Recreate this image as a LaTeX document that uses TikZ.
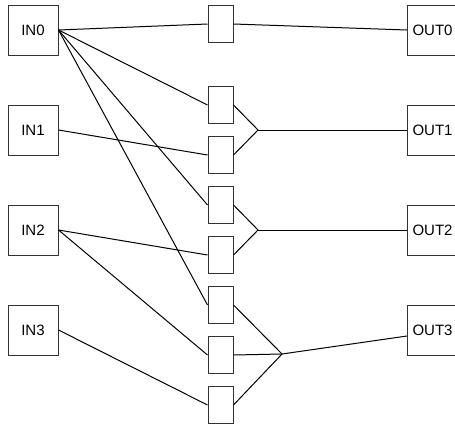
\documentclass[tikz,border=0pt]{standalone}
\usepackage{fontspec}
\setmainfont{Liberation Sans}
\tikzset{
  inbox/.style={draw=black!80, line width=1pt, minimum width=50pt, minimum height=50pt, inner sep=0pt, font=\fontsize{15}{18}\selectfont},
  outbox/.style={draw=black!80, line width=1pt, minimum height=50pt, text width=40pt, inner sep=5pt, align=left, anchor=west, font=\fontsize{15}{18}\selectfont},
  slot/.style={draw=black!80, line width=1pt, minimum width=25pt, minimum height=37.5pt, inner sep=0pt},
  wire/.style={line width=1pt, black}
}
\begin{document}
\begin{tikzpicture}[x=1pt, y=-1pt]
\useasboundingbox (0,0) rectangle (455,426);

% -------- inputs -----------
\node [inbox] (in0) at (33,30)  {IN0};
\node [inbox] (in1) at (33,130) {IN1};
\node [inbox] (in2) at (33,230) {IN2};
\node [inbox] (in3) at (33,330) {IN3};

% -------- middle boxes -----------
\node [slot] (s0) at (220.5,24)  {};
\node [slot] (s1) at (220.5,105) {};
\node [slot] (s2) at (220.5,155) {};
\node [slot] (s3) at (220.5,205) {};
\node [slot] (s4) at (220.5,255) {};
\node [slot] (s5) at (220.5,305) {};
\node [slot] (s6) at (220.5,355) {};
\node [slot] (s7) at (220.5,405) {};

% -------- outputs -----------
\node [outbox] (out0) at (407,30)  {OUT0};
\node [outbox] (out1) at (407,130) {OUT1};
\node [outbox] (out2) at (407,230) {OUT2};
\node [outbox] (out3) at (407,330) {OUT3};

\coordinate (j1) at (258,130);
\coordinate (j2) at (258,230);
\coordinate (j3) at (282,354);

% -------- input wires -----------
\draw [wire] (in0.east) -- (s0.west);
\draw [wire] (in0.east) -- (s1.west);
\draw [wire] (in0.east) -- (s3.west);
\draw [wire] (in0.east) -- (s5.west);
\draw [wire] (in1.east) -- (s2.west);
\draw [wire] (in2.east) -- (s4.west);
\draw [wire] (in2.east) -- (s6.west);
\draw [wire] (in3.east) -- (s7.west);

% -------- output wires -----------
\draw [wire] (s0.east) -- (out0.west);
\draw [wire] (s1.east) -- (j1) -- (s2.east);
\draw [wire] (j1) -- (out1.west);
\draw [wire] (s3.east) -- (j2) -- (s4.east);
\draw [wire] (j2) -- (out2.west);
\draw [wire] (s5.east) -- (j3) -- (s7.east);
\draw [wire] (s6.east) -- (j3);
\draw [wire] (j3) -- ([yshift=-6pt]out3.west);
\end{tikzpicture}
\end{document}
